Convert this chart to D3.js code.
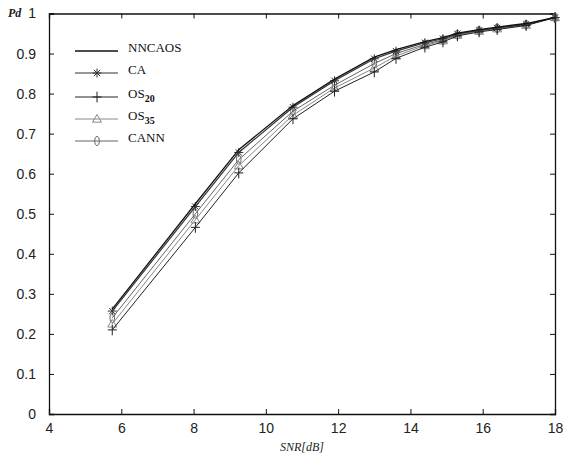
<!DOCTYPE html>
<html>
<head>
<meta charset="utf-8">
<script src="https://cdn.jsdelivr.net/npm/d3@7"></script>
<style>
  body { margin: 0; background: #fff; }
  .tick text { font-family: "Liberation Sans", Arial, sans-serif; font-size: 14px; fill: #222; }
  .legend text { font-family: "Liberation Serif", "Times New Roman", serif; font-size: 13px; fill: #111; }
</style>
</head>
<body>
<div id="chart"></div>
<script>
var svgWidth = 563;
var svgHeight = 457;

var margin = { top: 13.5, right: 8, bottom: 43, left: 49 };
var width = svgWidth - margin.left - margin.right;
var height = svgHeight - margin.top - margin.bottom;

// SNR values (dB) of the simulated points
var snr = [5.75, 8.05, 9.25, 10.75, 11.9, 13, 13.6, 14.4, 14.9, 15.3, 15.9, 16.4, 17.2, 18];

// Pd per detector
var nncaos = [0.262, 0.525, 0.66, 0.77, 0.836, 0.891, 0.91, 0.93, 0.94, 0.951, 0.96, 0.966, 0.975, 0.99];
var ca     = [0.257, 0.518, 0.653, 0.766, 0.832, 0.887, 0.906, 0.927, 0.937, 0.949, 0.958, 0.964, 0.973, 0.99];
var os20   = [0.210, 0.466, 0.602, 0.737, 0.806, 0.854, 0.888, 0.916, 0.929, 0.944, 0.954, 0.960, 0.970, 0.99];
var os35   = [0.225, 0.485, 0.620, 0.746, 0.814, 0.864, 0.894, 0.920, 0.932, 0.946, 0.956, 0.962, 0.971, 0.99];
var cann   = [0.240, 0.500, 0.635, 0.756, 0.821, 0.875, 0.900, 0.923, 0.934, 0.947, 0.957, 0.963, 0.972, 0.99];

var xTicks = [4, 6, 8, 10, 12, 14, 16, 18];
var yTicks = [0, 0.1, 0.2, 0.3, 0.4, 0.5, 0.6, 0.7, 0.8, 0.9, 1];

var series = [
  { name: "NNCAOS", sub: "", values: nncaos, color: "#111", marker: "none", width: 1.3 },
  { name: "CA", sub: "", values: ca, color: "#333", marker: "star", width: 1.2 },
  { name: "OS", sub: "20", values: os20, color: "#222", marker: "plus", width: 1 },
  { name: "OS", sub: "35", values: os35, color: "#888", marker: "triangle", width: 1 },
  { name: "CANN", sub: "", values: cann, color: "#666", marker: "ellipse", width: 1 }
];

var svg = d3.select("#chart")
  .append("svg")
  .attr("width", svgWidth)
  .attr("height", svgHeight);

svg.append("rect").attr("width", svgWidth).attr("height", svgHeight).attr("fill", "#fff");

var chartGroup = svg.append("g")
  .attr("transform", `translate(${margin.left}, ${margin.top})`);

var xScale = d3.scaleLinear().domain([4, 18]).range([0, width]);
var yScale = d3.scaleLinear().domain([0, 1]).range([height, 0]);

// Axes with inward ticks, box style
chartGroup.append("g")
  .attr("transform", `translate(0, ${height})`)
  .call(d3.axisBottom(xScale).tickValues(xTicks).tickSize(-5).tickPadding(12).tickFormat(d3.format("d")))
  .call(g => g.selectAll("text").attr("dy", "0.5em"));

chartGroup.append("g")
  .call(d3.axisLeft(yScale).tickValues(yTicks).tickSize(-5).tickPadding(13).tickFormat(d => d === 0 || d === 1 ? d : d3.format(".1f")(d)));

chartGroup.append("g")
  .call(d3.axisTop(xScale).tickValues(xTicks).tickSize(-5).tickFormat(""));

chartGroup.append("g")
  .attr("transform", `translate(${width}, 0)`)
  .call(d3.axisRight(yScale).tickValues(yTicks).tickSize(-5).tickFormat(""));

chartGroup.selectAll(".domain").attr("stroke", "#111").attr("stroke-width", 1.3);
chartGroup.selectAll(".tick line").attr("stroke", "#111");

// Markers
function markerPath(type, s) {
  if (type === "star") {
    var d = s * 0.7;
    return `M${-s},0L${s},0M0,${-s}L0,${s}M${-d},${-d}L${d},${d}M${-d},${d}L${d},${-d}`;
  }
  if (type === "plus") {
    return `M${-s},0L${s},0M0,${-s * 1.2}L0,${s * 1.2}`;
  }
  if (type === "triangle") {
    return `M0,${-s}L${s},${s * 0.7}L${-s},${s * 0.7}Z`;
  }
  if (type === "ellipse") {
    return `M0,${-s}A${s * 0.5},${s} 0 1,1 0,${s}A${s * 0.5},${s} 0 1,1 0,${-s}Z`;
  }
  return "";
}

var line = d3.line()
  .x((d, i) => xScale(snr[i]))
  .y(d => yScale(d));

series.slice().reverse().forEach(function(s) {
  chartGroup.append("path")
    .datum(s.values)
    .attr("d", line)
    .attr("fill", "none")
    .attr("stroke", s.color)
    .attr("stroke-width", s.width);

  if (s.marker !== "none") {
    chartGroup.selectAll(null)
      .data(s.values)
      .enter().append("path")
      .attr("transform", (d, i) => `translate(${xScale(snr[i])}, ${yScale(d)})`)
      .attr("d", markerPath(s.marker, 4.5))
      .attr("fill", "none")
      .attr("stroke", s.color)
      .attr("stroke-width", 1);
  }
});

// Legend
var legend = svg.append("g").attr("class", "legend");
var rowsY = [51, 73, 97, 119, 141];

series.forEach(function(s, i) {
  var row = legend.append("g").attr("transform", `translate(0, ${rowsY[i]})`);
  row.append("line")
    .attr("x1", 75).attr("x2", 118)
    .attr("stroke", s.color)
    .attr("stroke-width", s.width);
  if (s.marker !== "none") {
    row.append("path")
      .attr("transform", "translate(97, 0)")
      .attr("d", markerPath(s.marker, 4.5))
      .attr("fill", "none")
      .attr("stroke", s.color);
  }
  var t = row.append("text")
    .attr("x", 128)
    .attr("y", 0)
    .attr("dy", "0.1em");
  t.append("tspan").text(s.name);
  if (s.sub) {
    t.append("tspan")
      .attr("dy", "0.35em")
      .attr("font-size", "10px")
      .attr("font-weight", "bold")
      .text(s.sub);
  }
});

// Axis labels
svg.append("text")
  .attr("x", margin.left + width / 2)
  .attr("y", 451)
  .attr("text-anchor", "middle")
  .attr("font-family", "Liberation Serif, Times New Roman, serif")
  .attr("font-style", "italic")
  .attr("font-size", "12px")
  .attr("fill", "#222")
  .text("SNR[dB]");

svg.append("text")
  .attr("x", 8)
  .attr("y", 17)
  .attr("font-family", "Liberation Serif, Times New Roman, serif")
  .attr("font-style", "italic")
  .attr("font-weight", "bold")
  .attr("font-size", "12px")
  .attr("fill", "#222")
  .text("Pd");
</script>
</body>
</html>
